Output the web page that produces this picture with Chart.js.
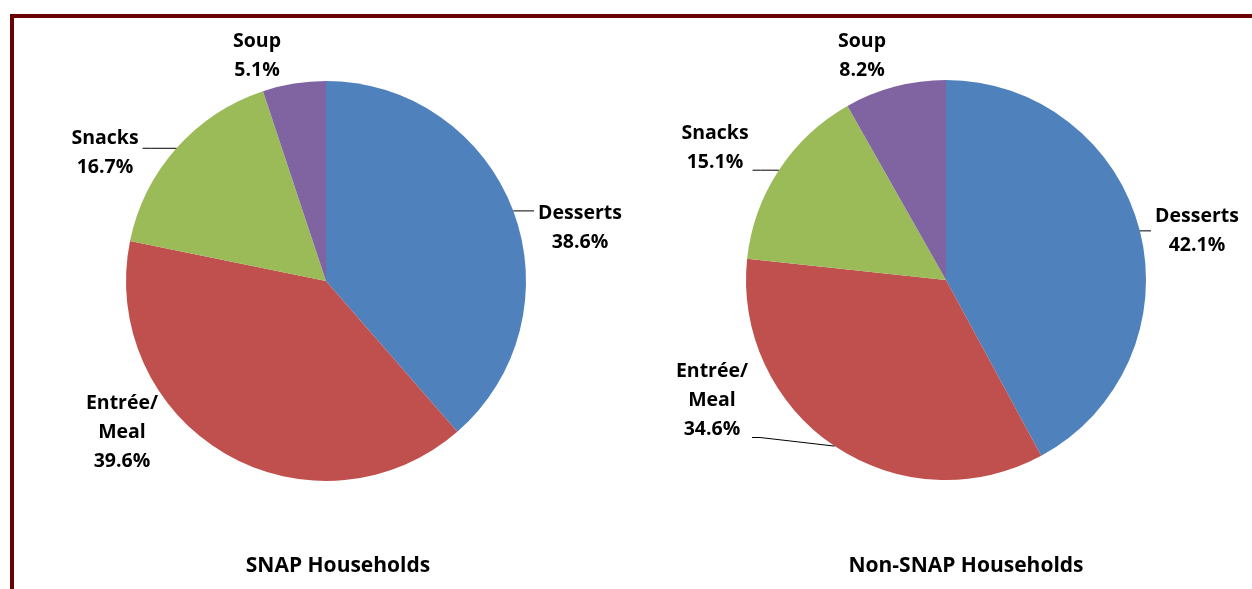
<!DOCTYPE html>
<html>
<head>
<meta charset="utf-8">
<script src="https://cdn.jsdelivr.net/npm/chart.js@4/dist/chart.umd.min.js"></script>
<style>
  html, body { margin: 0; padding: 0; background: #fff; overflow: hidden; }
  body { width: 1252px; height: 589px; position: relative; }
  .frame { position: absolute; left: 10px; top: 14px; width: 1300px; height: 700px;
           border: 4px solid #6B0000; box-sizing: border-box; }
  canvas { position: absolute; top: 0; }
</style>
</head>
<body>
<div class="frame"></div>
<canvas id="snap" width="636" height="589" style="left:0px"></canvas>
<canvas id="nonsnap" width="616" height="589" style="left:636px"></canvas>
<script>
// data
const categories = ['Desserts', 'Entrée/Meal', 'Snacks', 'Soup'];
const labelLines = [['Desserts'], ['Entrée/', 'Meal'], ['Snacks'], ['Soup']];
const snapValues = [38.6, 39.6, 16.7, 5.1];
const nonSnapValues = [42.1, 34.6, 15.1, 8.2];
const chartTitles = ['SNAP Households', 'Non-SNAP Households'];
const sliceColors = ['#4F81BD', '#C0504D', '#9BBB59', '#8064A2'];

// where each label block sits, relative to the pie centre
const snapLabelPos = [[254, -53], [-204, 151], [-221, -128], [-69, -225]];
const nonSnapLabelPos = [[251, -49], [-234, 120], [-231, -132], [-84, -224]];
const snapLeaders = [true, false, true, false];
const nonSnapLeaders = [true, true, true, false];

const labelFont = 'bold 19.5px "Open Sans"';
const titleFont = 'bold 21px "Open Sans"';
const lineH = 29;

const pieLabels = {
    id: 'pieLabels',
    afterDraw(chart, args, opts) {
        const ctx = chart.ctx;
        const arcs = chart.getDatasetMeta(0).data;
        const values = chart.data.datasets[0].data;
        ctx.save();
        ctx.font = labelFont;
        ctx.fillStyle = '#000';
        ctx.textAlign = 'center';
        ctx.textBaseline = 'middle';
        arcs.forEach((arc, i) => {
            const p = arc.getProps(['x', 'y', 'startAngle', 'endAngle', 'outerRadius'], true);
            const mid = (p.startAngle + p.endAngle) / 2;
            const ex = p.x + p.outerRadius * Math.cos(mid);
            const ey = p.y + p.outerRadius * Math.sin(mid);
            const lines = labelLines[i].concat([values[i].toFixed(1) + '%']);
            const cx = p.x + opts.pos[i][0];
            const cy = p.y + opts.pos[i][1];
            let w = 0;
            lines.forEach((t, k) => {
                w = Math.max(w, ctx.measureText(t).width);
                ctx.fillText(t, cx, cy + (k - (lines.length - 1) / 2) * lineH);
            });
            if (opts.leaders[i]) {
                const top = cy - lines.length * lineH / 2 + 6;
                const bot = cy + lines.length * lineH / 2 - 6;
                const ly = Math.min(Math.max(ey, top), bot);
                const side = ex > cx ? 1 : -1;
                const lx = cx + side * (w / 2 + 4);
                ctx.beginPath();
                ctx.strokeStyle = '#000';
                ctx.lineWidth = 1;
                ctx.moveTo(lx, ly);
                ctx.lineTo(lx + side * 8, ly);
                ctx.lineTo(ex, ey);
                ctx.stroke();
            }
        });
        ctx.font = titleFont;
        ctx.fillText(opts.title, opts.titleX, 566);
        ctx.restore();
    }
};

function makePie(id, values, padding, labelOpts) {
    return new Chart(document.getElementById(id), {
        type: 'pie',
        data: {
            labels: categories,
            datasets: [{
                data: values,
                backgroundColor: sliceColors,
                borderWidth: 0
            }]
        },
        options: {
            responsive: false,
            animation: false,
            devicePixelRatio: 1,
            layout: { padding: padding },
            plugins: {
                legend: { display: false },
                tooltip: { enabled: false },
                pieLabels: labelOpts
            }
        },
        plugins: [pieLabels]
    });
}

makePie('snap', snapValues, { left: 126, right: 110, top: 81, bottom: 108 },
    { pos: snapLabelPos, leaders: snapLeaders, title: chartTitles[0], titleX: 338 });
makePie('nonsnap', nonSnapValues, { left: 110, right: 106, top: 80, bottom: 109 },
    { pos: nonSnapLabelPos, leaders: nonSnapLeaders, title: chartTitles[1], titleX: 330 });
</script>
</body>
</html>
